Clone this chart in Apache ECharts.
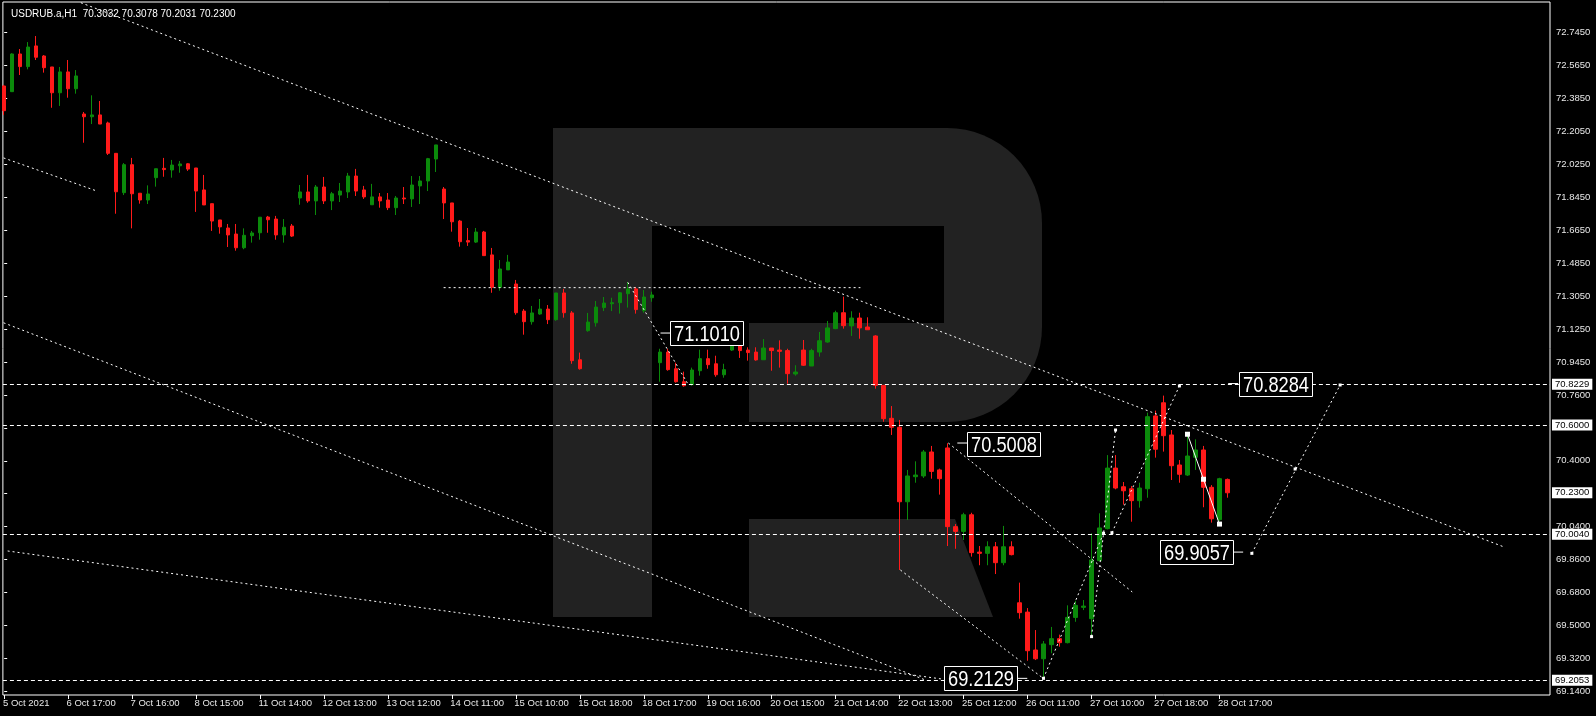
<!DOCTYPE html>
<html><head><meta charset="utf-8">
<script src="https://cdn.jsdelivr.net/npm/echarts@6/dist/echarts.min.js"></script>
<style>html,body{margin:0;padding:0;background:#000;}#c{width:1596px;height:716px;}</style>
</head><body><div id="c"></div>
<script>
const titleText = 'USDRUB.a,H1  70.3032 70.3078 70.2031 70.2300';

const opens = [72.453,72.422,72.628,72.559,72.672,72.617,72.557,72.416,72.530,72.438,
72.300,72.285,72.295,72.251,72.085,71.870,72.023,71.867,71.830,71.952,
72.003,71.994,72.017,72.028,72.005,71.885,71.810,71.721,71.677,71.644,
71.569,71.635,71.651,71.737,71.726,71.639,71.688,71.841,71.874,71.825,
71.901,71.825,71.857,71.874,71.961,71.885,71.804,71.847,71.830,71.788,
71.841,71.836,71.907,71.934,72.054,71.890,71.814,71.715,71.608,71.600,
71.655,71.530,71.353,71.448,71.371,71.223,71.165,71.207,71.234,71.176,
71.322,71.213,70.957,71.116,71.159,71.242,71.263,71.269,71.318,71.344,
71.225,71.296,70.941,70.999,70.908,70.837,70.821,70.897,70.963,70.935,
70.875,71.010,71.032,71.010,70.999,70.957,71.021,71.010,71.007,70.879,
71.010,70.923,70.999,71.054,71.127,71.214,71.142,71.185,71.136,71.087,
70.817,70.637,70.588,70.181,70.318,70.322,70.453,70.355,70.475,70.045,
70.019,70.110,69.906,69.899,69.935,69.848,69.935,69.629,69.578,69.371,
69.323,69.400,69.433,69.411,69.549,69.604,69.542,69.859,70.034,70.365,
70.263,70.252,70.187,70.252,70.650,70.722,70.546,70.382,70.327,70.424,
70.464,70.260,70.083,70.3032];
const highs = [72.459,72.632,72.655,72.693,72.726,72.622,72.557,72.557,72.595,72.540,
72.311,72.402,72.371,72.258,72.085,72.032,72.060,71.867,71.910,72.001,
72.060,72.049,72.043,72.031,72.005,71.967,71.810,71.721,71.699,71.699,
71.675,71.661,71.736,71.743,71.743,71.726,71.699,71.912,71.967,71.912,
71.956,71.874,71.923,71.978,72.000,71.907,71.918,71.868,71.868,71.852,
71.901,71.961,71.961,72.060,72.131,71.901,71.814,71.721,71.677,71.677,
71.661,71.568,71.502,71.530,71.393,71.234,71.251,71.289,71.256,71.322,
71.344,71.223,70.996,71.213,71.278,71.300,71.296,71.327,71.382,71.355,
71.338,71.329,71.017,71.017,70.941,70.892,70.914,71.012,71.012,70.979,
70.935,71.076,71.065,71.025,71.025,71.070,71.021,71.063,71.017,70.927,
71.065,71.017,71.109,71.169,71.225,71.302,71.222,71.214,71.189,71.091,
70.817,70.704,70.628,70.355,70.402,70.464,70.486,70.362,70.5008,70.059,
70.121,70.121,69.939,69.965,69.961,70.049,69.965,69.739,69.600,69.480,
69.420,69.497,69.455,69.615,69.640,69.644,70.009,70.118,70.436,70.436,
70.289,70.267,70.285,70.668,70.679,70.761,70.573,70.409,70.550,70.522,
70.486,70.272,70.312,70.3078];
const lows = [72.295,72.420,72.513,72.544,72.595,72.526,72.334,72.344,72.389,72.411,
72.143,72.245,72.245,72.076,71.755,71.857,71.675,71.810,71.808,71.903,
71.957,71.952,71.979,71.989,71.765,71.803,71.661,71.646,71.573,71.553,
71.561,71.597,71.613,71.651,71.613,71.597,71.628,71.804,71.815,71.748,
71.808,71.775,71.819,71.841,71.852,71.836,71.803,71.788,71.775,71.748,
71.808,71.792,71.808,71.879,71.983,71.726,71.657,71.575,71.579,71.595,
71.526,71.323,71.334,71.448,71.203,71.094,71.149,71.203,71.152,71.170,
71.187,70.935,70.903,71.110,71.138,71.223,71.223,71.209,71.242,71.209,
71.214,71.274,70.837,70.897,70.832,70.810,70.815,70.870,70.908,70.864,
70.859,71.005,70.967,70.952,70.952,70.957,70.897,70.914,70.826,70.870,
70.923,70.923,70.974,71.050,71.124,71.127,71.087,71.072,71.121,70.799,
70.618,70.546,69.808,70.081,70.285,70.311,70.307,70.220,69.939,69.924,
69.972,69.881,69.834,69.834,69.786,69.834,69.888,69.542,69.312,69.316,
69.2129,69.353,69.389,69.407,69.525,69.589,69.444,69.856,70.030,70.249,
70.165,70.072,70.149,70.203,70.422,70.455,70.300,70.285,70.322,70.355,
70.151,70.067,70.077,70.2031];
const closes = [72.318,72.628,72.559,72.666,72.610,72.553,72.416,72.530,72.438,72.508,
72.285,72.295,72.245,72.085,71.875,72.023,71.864,71.830,71.863,72.001,
71.996,72.021,72.027,71.999,71.879,71.803,71.715,71.683,71.639,71.569,
71.637,71.650,71.736,71.722,71.639,71.681,71.633,71.874,71.825,71.901,
71.825,71.864,71.879,71.961,71.879,71.847,71.847,71.825,71.788,71.841,
71.836,71.912,71.934,72.056,72.131,71.814,71.711,71.602,71.600,71.655,
71.526,71.353,71.453,71.491,71.214,71.165,71.213,71.234,71.176,71.322,
71.214,70.952,70.908,71.163,71.245,71.267,71.269,71.323,71.344,71.231,
71.300,71.311,70.999,70.903,70.837,70.815,70.901,70.963,70.930,70.875,
70.903,71.038,71.007,70.996,70.956,71.021,71.007,71.003,70.881,70.890,
70.927,71.007,71.061,71.131,71.214,71.143,71.185,71.131,71.121,70.817,
70.635,70.588,70.181,70.322,70.327,70.453,70.347,70.307,70.045,70.019,
70.110,69.903,69.899,69.935,69.848,69.935,69.892,69.575,69.367,69.323,
69.404,69.433,69.411,69.549,69.615,69.611,69.863,70.038,70.365,70.256,
70.241,70.187,70.256,70.646,70.468,70.542,70.378,70.331,70.431,70.464,
70.260,70.088,70.307,70.2300];

const xTickBars = [0,8,16,24,32,40,48,56,64,72,80,88,96,104,112,120,128,136,144,152];
const xTickLabels = ['5 Oct 2021','6 Oct 17:00','7 Oct 16:00','8 Oct 15:00','11 Oct 14:00','12 Oct 13:00',
'13 Oct 12:00','14 Oct 11:00','15 Oct 10:00','15 Oct 18:00','18 Oct 17:00','19 Oct 16:00','20 Oct 15:00',
'21 Oct 14:00','22 Oct 13:00','25 Oct 12:00','26 Oct 11:00','27 Oct 10:00','27 Oct 18:00','28 Oct 17:00'];

const yTickValues = [72.745,72.565,72.385,72.205,72.025,71.845,71.665,71.485,71.305,71.125,
70.945,70.765,70.585,70.405,70.225,70.045,69.865,69.685,69.505,69.325,69.145];
const yTickLabels = ['72.7450','72.5650','72.3850','72.2050','72.0250','71.8450','71.6650','71.4850','71.3050','71.1250',
'70.9450','70.7600','70.5800','70.4000','70.2200','70.0400','69.8600','69.6800','69.5000','69.3200','69.1400'];

const levels = [70.8229, 70.6000, 70.0040, 69.2053];
const levelLabels = ['70.8229','70.6000','70.0040','69.2053'];
const bidPrice = 70.2300;

const dottedLines = [
  [[9.59,72.908],[187.71,69.932]],
  [[-0.08,72.060],[11.59,71.879]],
  [[-0.08,71.159],[115.21,69.207]],
  [[0.43,69.912],[117.34,69.212]],
  [[112.09,69.808],[129.96,69.216]],
  [[54.96,71.351],[107.09,71.351]],
  [[78.0,71.380],[85.59,70.819]],
  [[118.09,70.502],[141.09,69.688]],
  [[129.99,69.216],[137.5,70.009]],
  [[136.0,69.444],[139.0,70.573]],
  [[138.55,70.012],[146.99,70.814]],
  [[156.05,69.899],[167.09,70.819]]
];
const connectors = [
  [[82.09,71.103],[83.34,71.103]],
  [[119.21,70.502],[120.46,70.502]],
  [[126.71,69.216],[127.96,69.216]],
  [[153.71,69.906],[154.96,69.906]],
  [[153.09,70.827],[154.34,70.827]]
];
const zigzag = [[148,70.550],[150,70.304],[152,70.059]];
const pivots = [[129.99,69.216],[136.0,69.444],[137.5,70.009],[138.55,70.012],[139.0,70.573],
  [146.99,70.814],[156.05,69.899],[161.46,70.360],[167.09,70.819]];
const waveLabelText = ['71.1010','70.5008','69.2129','69.9057','70.8284'];
const waveLabelPos = [[87.9,71.103],[124.96,70.497],[122.15,69.216],[149.16,69.906],[158.96,70.827]];

const UP = '#0b8a0b', DOWN = '#ff1a1a';
const axisFont = "'Liberation Sans', Arial, sans-serif";

const candleData = opens.map((o, i) => [i, o, closes[i], lows[i], highs[i]]);

const series = [];
series.push({
  type: 'candlestick', data: candleData, encode: {x: 0, y: [1, 2, 3, 4]},
  barWidth: 4, animation: false, silent: true, z: 3,
  itemStyle: {color: UP, color0: DOWN, borderColor: UP, borderColor0: DOWN, borderWidth: 1},
  markLine: {
    silent: true, animation: false, symbol: ['none', 'none'], precision: 4,
    data: levels.map((v, i) => ({
      yAxis: v,
      lineStyle: {color: '#ffffff', width: 1, type: [4, 3]},
      label: {show: true, position: 'end', distance: 2, formatter: levelLabels[i],
        backgroundColor: '#ffffff', color: '#000000', fontSize: 9.5, fontFamily: axisFont,
        padding: [1, 3, 0, 3]}
    })).concat([{
      yAxis: bidPrice,
      lineStyle: {color: 'rgba(0,0,0,0)', width: 1},
      label: {show: true, position: 'end', distance: 2, formatter: '70.2300',
        backgroundColor: '#ffffff', color: '#000000', fontSize: 9.5, fontFamily: axisFont,
        padding: [1, 3, 0, 3]}
    }])
  }
});
dottedLines.forEach(seg => series.push({
  type: 'line', data: seg, symbol: 'none', silent: true, animation: false, z: 4,
  lineStyle: {color: '#ffffff', width: 1, type: [2, 3]}
}));
connectors.forEach(seg => series.push({
  type: 'line', data: seg, symbol: 'none', silent: true, animation: false, z: 4,
  lineStyle: {color: '#ffffff', width: 1}
}));
series.push({
  type: 'line', data: zigzag, symbol: 'rect', symbolSize: 5, silent: true, animation: false, z: 5,
  itemStyle: {color: '#ffffff', opacity: 1}, lineStyle: {color: '#ffffff', width: 1}
});
series.push({
  type: 'scatter', data: pivots, symbol: 'rect', symbolSize: 3, silent: true, animation: false, z: 5,
  itemStyle: {color: '#ffffff', opacity: 1}
});
series.push({
  type: 'custom', data: waveLabelPos, silent: true, animation: false, z: 6,
  encode: {x: 0, y: 1},
  renderItem: (params, api) => {
    const p = api.coord([api.value(0), api.value(1)]);
    const w = 73, h = 24;
    const x0 = Math.round(p[0] - w / 2) + 0.5, y0 = Math.round(p[1] - h / 2) + 0.5;
    return {type: 'group', children: [
      {type: 'rect', shape: {x: x0, y: y0, width: w, height: h},
        style: {fill: '#000000', stroke: '#ffffff', lineWidth: 1}},
      {type: 'text', x: x0 + w / 2, y: y0 + h / 2 + 1, scaleX: 0.83,
        style: {text: waveLabelText[params.dataIndex], fill: '#ffffff',
          font: "22px 'Liberation Sans', Arial, sans-serif", align: 'center', verticalAlign: 'middle'}}
    ]};
  }
});

const gray = '#222222';
const chart = echarts.init(document.getElementById('c'), null, {renderer: 'canvas'});
chart.setOption({
  backgroundColor: '#000000',
  animation: false,
  title: {text: titleText, left: 6, top: 4,
    textStyle: {color: '#ffffff', fontSize: 10, fontWeight: 'normal', fontFamily: axisFont}},
  graphic: {elements: [
    {type: 'rect', z: 0, silent: true, shape: {x: 553, y: 128, width: 99, height: 489}, style: {fill: gray}},
    {type: 'rect', z: 0, silent: true, shape: {x: 553, y: 128, width: 489, height: 294, r: [0, 95, 95, 0]}, style: {fill: gray}},
    {type: 'rect', z: 0, silent: true, shape: {x: 652, y: 226, width: 292, height: 97}, style: {fill: '#000000'}},
    {type: 'rect', z: 0, silent: true, shape: {x: 652, y: 323, width: 97, height: 99}, style: {fill: '#000000'}},
    {type: 'polygon', z: 0, silent: true, shape: {points: [[749, 519], [955, 519], [993, 617], [749, 617]]}, style: {fill: gray}}
  ]},
  grid: {left: 2, right: 46, top: 2, bottom: 21, show: true, borderColor: '#ffffff', borderWidth: 1,
    backgroundColor: 'transparent'},
  xAxis: {
    type: 'value', min: -0.1625, max: 193.34,
    axisLine: {show: false}, splitLine: {show: false},
    axisTick: {show: true, customValues: xTickBars, length: 4, lineStyle: {color: '#ffffff'}},
    axisLabel: {show: true, customValues: xTickBars.map(b => Math.max(b - 0.2, -0.15)), align: 'left', margin: 3,
      color: '#e8e8e8', fontSize: 9.5, fontFamily: axisFont,
      formatter: v => xTickLabels[xTickBars.indexOf(Math.max(0, Math.round(v)))] || ''}
  },
  yAxis: {
    type: 'value', position: 'right', min: 69.125, max: 72.912, scale: true,
    axisLine: {show: false}, splitLine: {show: false},
    axisTick: {show: true, customValues: yTickValues, length: 3, lineStyle: {color: '#ffffff'}},
    axisLabel: {show: true, customValues: yTickValues, margin: 6, color: '#e8e8e8',
      fontSize: 9.5, fontFamily: axisFont,
      formatter: v => {
        let best = 0;
        yTickValues.forEach((t, i) => { if (Math.abs(t - v) < Math.abs(yTickValues[best] - v)) best = i; });
        return yTickLabels[best];
      }}
  },
  series: series
});
</script></body></html>
